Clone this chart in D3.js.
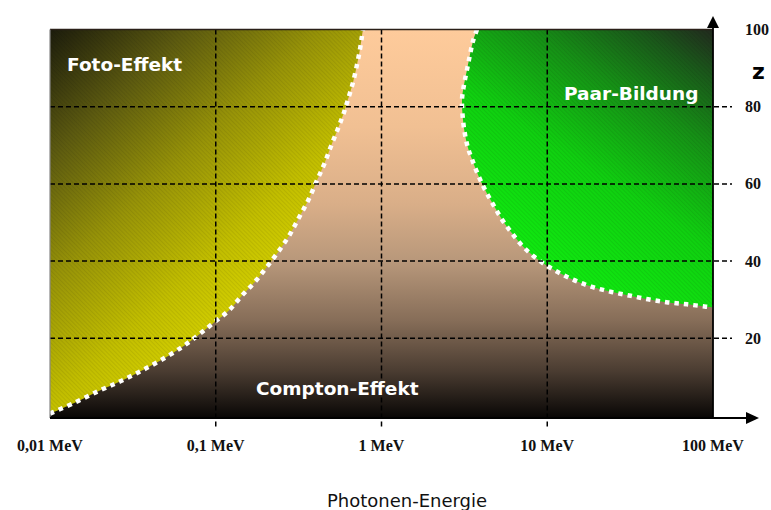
<!DOCTYPE html>
<html><head><meta charset="utf-8">
<script src="https://cdnjs.cloudflare.com/ajax/libs/d3/7.8.5/d3.min.js"></script>
<style>html,body{margin:0;padding:0;background:#fff;}svg{display:block;}</style>
</head><body>
<script>
// ---- data ----
const energyTicks = [0.01, 0.1, 1, 10, 100];
const energyLabels = ["0,01 MeV", "0,1 MeV", "1 MeV", "10 MeV", "100 MeV"];
const zTicks = [20, 40, 60, 80, 100];
const zLabels = ["20", "40", "60", "80", "100"];
// boundary Foto-Effekt / Compton-Effekt: [energy MeV, Z]
const fotoBoundary = [
  [0.01, 0.5], [0.0142, 3.4], [0.02, 6.5], [0.0264, 8.8], [0.0349, 11.4], [0.0461, 14.2],
  [0.0634, 17.9], [0.0793, 21.0], [0.0976, 24.1], [0.120, 27.2], [0.144, 31.1], [0.173, 34.7],
  [0.204, 38.6], [0.241, 42.7], [0.280, 46.9], [0.318, 51.3], [0.361, 55.7], [0.403, 60.4],
  [0.450, 65.0], [0.495, 69.7], [0.547, 74.4], [0.590, 78.2], [0.628, 81.9], [0.673, 86.3],
  [0.71, 90.7], [0.741, 94.8], [0.76, 97.9], [0.773, 100]
];
// boundary Compton-Effekt / Paar-Bildung: [energy MeV, Z]
const paarBoundary = [
  [3.77, 100], [3.56, 96.9], [3.42, 93.5], [3.28, 89.6], [3.15, 85.8], [3.06, 81.9],
  [3.10, 76.7], [3.19, 72.8], [3.32, 69.4], [3.52, 66.3], [3.82, 62.4], [4.21, 58.5],
  [4.71, 54.7], [5.33, 50.8], [6.13, 47.2], [7.24, 43.5], [8.91, 40.2], [11.1, 37.6],
  [14.3, 35.2], [18.4, 33.4], [23.9, 32.1], [31.1, 31.1], [40.6, 30.1], [53.5, 29.3],
  [69.7, 28.8], [90.7, 28.2], [100, 28.0]
];
const regionLabels = ["Foto-Effekt", "Paar-Bildung", "Compton-Effekt"];
const axisTitleX = "Photonen-Energie";
const axisTitleZ = "z";

// ---- chart ----
const W = 771, H = 510;
const svg = d3.select("body").append("svg").attr("width", W).attr("height", H);
const x = d3.scaleLog().domain([0.01, 100]).range([50, 713]);
const y = d3.scaleLinear().domain([0, 100]).range([415.5, 29.5]);
const x0 = x(0.01), x1 = x(100), yTop = y(100), yBot = 418;

const defs = svg.append("defs");
const cg = defs.append("linearGradient").attr("id", "compton").attr("x1", 0).attr("y1", 0).attr("x2", 0).attr("y2", 1);
[[0, "#FECB9B"], [0.25, "#F1C093"], [0.45, "#D9AE88"], [0.6, "#B7977A"], [0.75, "#866D58"],
 [0.88, "#4A3C31"], [1, "#080605"]].forEach(s => cg.append("stop").attr("offset", s[0]).attr("stop-color", s[1]));

const fg = defs.append("linearGradient").attr("id", "foto").attr("gradientUnits", "userSpaceOnUse")
  .attr("x1", 50).attr("y1", 30).attr("x2", 300).attr("y2", 300);
[[0, "#1c1c0c"], [0.25, "#5c5a10"], [0.5, "#979308"], [0.75, "#c2be00"], [1, "#dcd800"]]
  .forEach(s => fg.append("stop").attr("offset", s[0]).attr("stop-color", s[1]));

const pg = defs.append("linearGradient").attr("id", "paar").attr("gradientUnits", "userSpaceOnUse")
  .attr("x1", 560).attr("y1", 270).attr("x2", 713).attr("y2", 30);
[[0, "#10e810"], [0.35, "#10d010"], [0.65, "#169016"], [0.85, "#1a5a1a"], [1, "#222a1e"]]
  .forEach(s => pg.append("stop").attr("offset", s[0]).attr("stop-color", s[1]));

const hatch = defs.append("pattern").attr("id", "hatch").attr("width", 3).attr("height", 3)
  .attr("patternUnits", "userSpaceOnUse").attr("patternTransform", "rotate(-45)");
hatch.append("line").attr("x1", 0).attr("y1", 0).attr("x2", 0).attr("y2", 3)
  .attr("stroke", "#000").attr("stroke-opacity", 0.14).attr("stroke-width", 1);

defs.append("clipPath").attr("id", "plotclip").append("rect")
  .attr("x", x0).attr("y", yTop).attr("width", x1 - x0).attr("height", yBot - yTop);

// Compton background
svg.append("rect").attr("x", x0).attr("y", yTop).attr("width", x1 - x0).attr("height", yBot - yTop)
  .attr("fill", "url(#compton)");

const line = d3.line().x(d => x(d[0])).y(d => y(d[1])).curve(d3.curveCatmullRom.alpha(0.5));
const plot = svg.append("g").attr("clip-path", "url(#plotclip)");

const fotoPath = line(fotoBoundary) + `L${x0},${yTop}Z`;
const paarPath = line(paarBoundary) + `L${x1},${yTop}Z`;
plot.append("path").attr("d", fotoPath).attr("fill", "url(#foto)");
plot.append("path").attr("d", fotoPath).attr("fill", "url(#hatch)");
plot.append("path").attr("d", paarPath).attr("fill", "url(#paar)");
plot.append("path").attr("d", paarPath).attr("fill", "url(#hatch)");

// grid
const grid = svg.append("g").attr("stroke", "#000").attr("stroke-width", 1.5).attr("stroke-dasharray", "5,3").attr("fill", "none");
energyTicks.filter(v => v > 0.01 && v < 100).forEach(v => {
  grid.append("line").attr("x1", x(v)).attr("x2", x(v)).attr("y1", yTop).attr("y2", 428);
});
zTicks.filter(v => v < 100).forEach(v => {
  grid.append("line").attr("x1", x0).attr("x2", 732).attr("y1", y(v)).attr("y2", y(v));
});

// dotted boundaries
[fotoBoundary, paarBoundary].forEach(b => {
  plot.append("path").attr("d", line(b)).attr("fill", "none").attr("stroke", "#fff")
    .attr("stroke-width", 4.5).attr("stroke-dasharray", "4.5,5");
});

// borders
svg.append("line").attr("x1", x0).attr("x2", x1).attr("y1", yTop).attr("y2", yTop).attr("stroke", "#2a2018").attr("stroke-width", 1.5);
svg.append("line").attr("x1", x0).attr("x2", x0).attr("y1", yTop).attr("y2", yBot).attr("stroke", "#888").attr("stroke-width", 1.2);

// axes with arrows
svg.append("line").attr("x1", x0).attr("x2", 750).attr("y1", yBot).attr("y2", yBot).attr("stroke", "#000").attr("stroke-width", 2.2);
svg.append("path").attr("d", `M759,${yBot}L746,${yBot - 6}L746,${yBot + 6}Z`).attr("fill", "#000");
svg.append("line").attr("x1", x1).attr("x2", x1).attr("y1", yBot).attr("y2", 24).attr("stroke", "#000").attr("stroke-width", 1.8);
svg.append("path").attr("d", `M${x1},16L${x1 - 6},28L${x1 + 6},28Z`).attr("fill", "#000");

// tick labels
const serif = "'Liberation Serif','Times New Roman',serif";
const sans = "'DejaVu Sans',Verdana,sans-serif";
svg.append("g").selectAll("text").data(energyTicks).join("text")
  .attr("x", d => x(d)).attr("y", 451).attr("text-anchor", "middle")
  .attr("font-family", serif).attr("font-weight", "bold").attr("font-size", 16).attr("fill", "#111")
  .text((d, i) => energyLabels[i]);
svg.append("g").selectAll("text").data(zTicks).join("text")
  .attr("x", 745).attr("y", d => y(d) + 5.5)
  .attr("font-family", serif).attr("font-weight", "bold").attr("font-size", 16).attr("fill", "#111")
  .text((d, i) => zLabels[i]);

svg.append("text").attr("x", 752).attr("y", 79).attr("font-family", sans).attr("font-weight", "bold")
  .attr("font-size", 22).attr("fill", "#000").text(axisTitleZ);
svg.append("text").attr("x", 407).attr("y", 507).attr("text-anchor", "middle").attr("font-family", sans)
  .attr("font-size", 18).attr("fill", "#111").text(axisTitleX);

// region labels
const lbl = [[67, 70.5], [564, 100], [256, 395]];
svg.append("g").selectAll("text").data(regionLabels).join("text")
  .attr("x", (d, i) => lbl[i][0]).attr("y", (d, i) => lbl[i][1])
  .attr("font-family", sans).attr("font-weight", "bold").attr("font-size", 18.5).attr("fill", "#fff")
  .text(d => d);
</script>
</body></html>
